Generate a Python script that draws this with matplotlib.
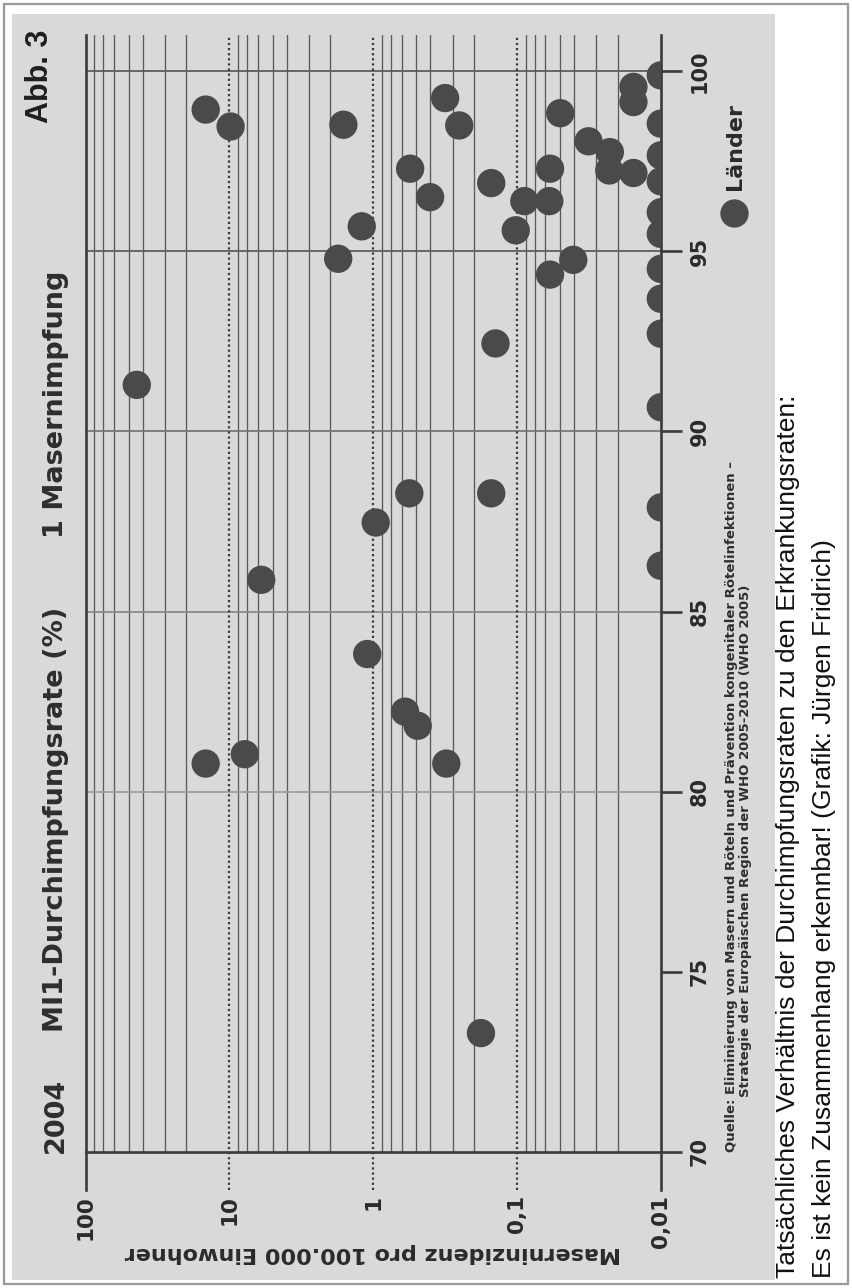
import matplotlib
matplotlib.use("Agg")
import matplotlib.pyplot as plt
from matplotlib.patches import Rectangle
from matplotlib.lines import Line2D
from matplotlib.ticker import LogLocator, NullFormatter

# ---------------- data ----------------
vacc_rate = [98.93, 98.46, 98.51, 95.69, 94.79, 91.29, 85.88, 87.47, 88.28, 88.28,
             92.44, 83.82, 82.22, 81.83, 80.78, 81.04, 80.78, 73.30, 99.25, 98.49,
             97.29, 96.50, 96.89, 98.83, 98.05, 97.75, 97.24, 99.56, 99.14, 97.17,
             97.29, 96.39, 96.39, 95.58, 94.35, 94.76]
incidence = [14.6, 9.8, 1.61, 1.2, 1.75, 44.0, 6.0, 0.96, 0.56, 0.151,
             0.141, 1.1, 0.60, 0.49, 14.6, 7.8, 0.31, 0.178, 0.316, 0.252,
             0.553, 0.402, 0.151, 0.050, 0.0318, 0.0226, 0.0228, 0.0155, 0.0155, 0.0155,
             0.0589, 0.0889, 0.0596, 0.102, 0.0589, 0.0406]
# countries at (or below) the lower limit 0.01
vacc_rate_zero = [99.88, 98.54, 97.66, 96.94, 96.08, 95.48, 94.51, 93.68, 92.71,
                  90.67, 87.89, 86.27]
incidence_zero = [0.01] * len(vacc_rate_zero)

inc_ticks = [100, 10, 1, 0.1, 0.01]
inc_labels = ["100", "10", "1", "0,1", "0,01"]
vacc_ticks = [70, 75, 80, 85, 90, 95, 100]
vacc_labels = ["70", "75", "80", "85", "90", "95", "100"]
vacc_grid = [80, 85, 90, 95, 100]
minor_subs = [2, 2.8, 4, 5, 6.35, 7.5, 8.7]

W, H = 852, 1288
fig = plt.figure(figsize=(W / 100, H / 100), dpi=100)
fig.patch.set_facecolor("white")

def fx(px):
    return px / W

def fy(py):
    return 1 - py / H

# panel + frame
fig.patches.append(Rectangle((fx(12), fy(1280)), (775 - 12) / W, (1280 - 14) / H,
                             transform=fig.transFigure, facecolor="#d9d9d9",
                             edgecolor="none", zorder=-10))
fig.patches.append(Rectangle((fx(4), fy(1284)), (848 - 4) / W, (1284 - 4) / H,
                             transform=fig.transFigure, facecolor="none",
                             edgecolor="#9a9a9a", lw=1.6, zorder=-9))

# axes: horizontal = incidence (log, reversed), vertical = vaccination rate
ax_l, ax_r, ax_t, ax_b = 85.5, 660.8, 35, 1152
ax = fig.add_axes([fx(ax_l), fy(ax_b), (ax_r - ax_l) / W, (ax_b - ax_t) / H])
ax.set_zorder(1)
ax.set_facecolor("none")
ax.set_xscale("log")
ax.set_xlim(100, 0.01)
ax.set_ylim(70, 101)

for s in ["left", "right", "top"]:
    ax.spines[s].set_visible(False)
ax.spines["bottom"].set_color("#3a3a3a")
ax.spines["bottom"].set_linewidth(1.9)

# minor vertical grid lines
ax.xaxis.set_minor_locator(LogLocator(base=10, subs=minor_subs, numticks=50))
ax.xaxis.set_minor_formatter(NullFormatter())
ax.grid(which="minor", axis="x", color="#5a5a5a", lw=0.95)
ax.tick_params(axis="x", which="minor", length=0)

# decade lines (extending below the axis as ticks)
ext = (1190 - ax_b) / (ax_b - ax_t)
for v in inc_ticks:
    if v in (inc_ticks[0], inc_ticks[-1]):
        ax.axvline(v, ymin=-ext, ymax=1, color="#3a3a3a", lw=1.9, clip_on=False, zorder=3)
    else:
        ax.axvline(v, ymin=-ext, ymax=1, color="#3a3a3a", lw=1.6,
                   ls=(0, (1, 1.3)), clip_on=False, zorder=3)

# horizontal grid lines
hcolors = {80: "#a0a0a0", 85: "#8a8a8a", 90: "#777777", 95: "#5e5e5e", 100: "#5e5e5e"}
for v in vacc_grid:
    ax.axhline(v, color=hcolors[v], lw=1.3, zorder=2)

ax.set_xticks(inc_ticks)
ax.set_xticklabels(inc_labels)
ax.tick_params(axis="x", which="major", length=0, pad=31, labelsize=15.5,
               labelrotation=90)
for lab in ax.get_xticklabels():
    lab.set_fontweight("bold")
    lab.set_color("#2a2a2a")

ax.yaxis.set_ticks_position("right")
ax.set_yticks(vacc_ticks)
ax.set_yticklabels(vacc_labels)
ax.tick_params(axis="y", which="major", direction="out", length=15, width=1.9,
               color="#3a3a3a", pad=6, labelsize=15, labelrotation=90)
for lab in ax.get_yticklabels():
    lab.set_fontweight("bold")
    lab.set_color("#2a2a2a")
    lab.set_verticalalignment("center")

# data
dot_color = "#4a4a4a"
ax.scatter(incidence, vacc_rate, s=416, color=dot_color, edgecolors="none",
           zorder=5, clip_on=True)
ax.scatter(incidence_zero, vacc_rate_zero, s=416, color=dot_color, edgecolors="none",
           zorder=4, clip_on=True)

# legend
fig.add_artist(Line2D([fx(734)], [fy(213)], marker="o", markersize=20.4, color=dot_color,
                      markeredgewidth=0, linestyle="none", transform=fig.transFigure))
fig.text(fx(735), fy(190), "Länder", rotation=90, ha="center", va="bottom",
         fontsize=16, fontweight="bold", color="#2a2a2a")

# titles
tkw = dict(rotation=90, ha="center", va="bottom", fontsize=19.5, fontweight="bold",
           color="#2e2e2e")
fig.text(fx(56), fy(1153), "2004", **tkw)
fig.text(fx(56), fy(1032), "MI1-Durchimpfungsrate (%)", **tkw)
fig.text(fx(56), fy(538), "1 Masernimpfung", **tkw)
fig.text(fx(40), fy(123), "Abb. 3", rotation=90, ha="center", va="bottom",
         fontsize=22, fontweight="bold", family="Liberation Sans", color="#1e1e1e")

# axis label (upside down)
fig.text(fx(373), fy(1253), "Maserninzidenz pro 100.000 Einwohner", rotation=180,
         ha="center", va="center", fontsize=16, fontweight="bold", color="#2a2a2a")

# source
skw = dict(rotation=90, ha="center", va="bottom", fontsize=9.5, fontweight="bold",
           color="#2e2e2e")
fig.text(fx(731), fy(1152),
         "Quelle: Eliminierung von Masern und Röteln und Prävention kongenitaler Rötelinfektionen –",
         **skw)
fig.text(fx(745), fy(1097),
         "Strategie der Europäischen Region der WHO 2005-2010 (WHO 2005)", **skw)

# caption
ckw = dict(rotation=90, ha="center", va="bottom", fontsize=19,
           family="Liberation Sans", color="#111111")
fig.text(fx(788), fy(1278),
         "Tatsächliches Verhältnis der Durchimpfungsraten zu den Erkrankungsraten:", **ckw)
fig.text(fx(824), fy(1278),
         "Es ist kein Zusammenhang erkennbar! (Grafik: Jürgen Fridrich)", **ckw)

fig.savefig("out.png", dpi=100)
